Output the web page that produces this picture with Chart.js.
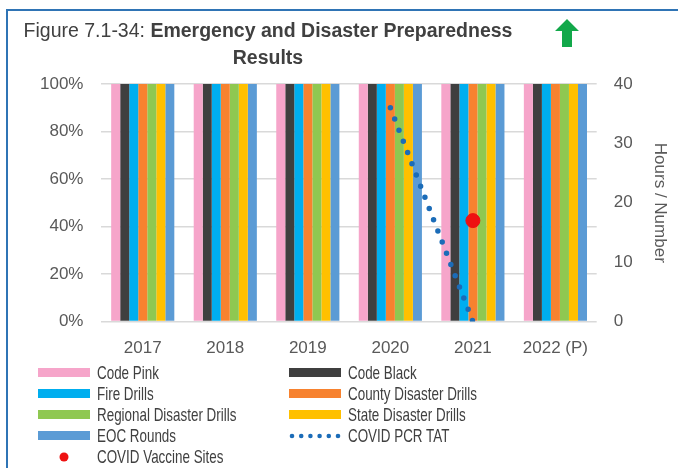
<!DOCTYPE html>
<html>
<head>
<meta charset="utf-8">
<script src="https://cdn.jsdelivr.net/npm/chart.js@4/dist/chart.umd.min.js"></script>
<style>
    html, body { margin: 0; padding: 0; background: #fff; overflow: hidden; }
    #wrap { position: relative; width: 678px; height: 468px; overflow: hidden; font-family: "Liberation Sans", Arial, sans-serif; }
    #frameTop { position: absolute; left: 6px; top: 9px; width: 680px; height: 2px; background: #2f74b5; }
    #frameLeft { position: absolute; left: 6px; top: 9px; width: 2px; height: 470px; background: #2f74b5; }
    #title { position: absolute; left: 20px; top: 17px; width: 496px; text-align: center; font-size: 19.5px; line-height: 27px; color: #404040; }
    #title b { color: #404040; }
    #arrow { position: absolute; left: 555px; top: 19px; }
    #chartBox { position: absolute; left: 0; top: 0; width: 678px; height: 468px; }
    #legend { position: absolute; left: 38px; top: 362px; width: 640px; font-size: 18.5px; color: #404040; }
    .item { position: absolute; height: 21px; line-height: 21px; white-space: nowrap; }
    .swatch { position: absolute; left: 0; top: 6px; width: 52px; height: 9px; }
    .label { position: absolute; left: 59px; top: 0; transform: scaleX(0.725); transform-origin: 0 50%; }
</style>
</head>
<body>
<div id="wrap">
    <div id="frameTop"></div>
    <div id="frameLeft"></div>
    <canvas id="chartBox" width="678" height="468"></canvas>
    <div id="title">Figure 7.1-34: <b>Emergency and Disaster Preparedness<br>Results</b></div>
    <svg id="arrow" width="24" height="28" viewBox="0 0 24 28">
        <polygon points="12,0 24,12 17,12 17,28 7,28 7,12 0,12" fill="#12a84a"/>
    </svg>
    <div id="legend"></div>
</div>
<script>
// categories
const years = ["2017", "2018", "2019", "2020", "2021", "2022 (P)"];

// bar series (percent)
const codePink = [100, 100, 100, 100, 100, 100];
const codeBlack = [100, 100, 100, 100, 100, 100];
const fireDrills = [100, 100, 100, 100, 100, 100];
const countyDrills = [100, 100, 100, 100, 100, 100];
const regionalDrills = [100, 100, 100, 100, 100, 100];
const stateDrills = [100, 100, 100, 100, 100, 100];
const eocRounds = [100, 100, 100, 100, 100, 100];

// right axis series (hours / number)
const covidPcrTat = [null, null, null, 36, 0, null];
const covidVaccineSites = [null, null, null, null, 17, null];

// tick labels
const pctTicks = [0, 20, 40, 60, 80, 100];
const numTicks = [0, 10, 20, 30, 40];

const barSeries = [
    { label: "Code Pink", data: codePink, color: "#f6a5ca" },
    { label: "Code Black", data: codeBlack, color: "#3f3f3f" },
    { label: "Fire Drills", data: fireDrills, color: "#00aeef" },
    { label: "County Disaster Drills", data: countyDrills, color: "#f7822f" },
    { label: "Regional Disaster Drills", data: regionalDrills, color: "#8fc851" },
    { label: "State Disaster Drills", data: stateDrills, color: "#ffc000" },
    { label: "EOC Rounds", data: eocRounds, color: "#5b9bd5" }
];

const tatColor = "#1b6cb8";
const vaccineColor = "#ee1111";

const datasets = barSeries.map(s => ({
    type: "bar",
    label: s.label,
    data: s.data,
    backgroundColor: s.color,
    borderWidth: 0,
    yAxisID: "y",
    order: 2,
    categoryPercentage: 0.765,
    barPercentage: 1.0
}));

datasets.push({
    type: "line",
    label: "COVID PCR TAT",
    data: covidPcrTat,
    yAxisID: "y1",
    borderColor: tatColor,
    borderWidth: 5.5,
    borderDash: [0, 12],
    borderCapStyle: "round",
    pointRadius: 0,
    fill: false,
    order: 1
});

datasets.push({
    type: "line",
    label: "COVID Vaccine Sites",
    data: covidVaccineSites,
    yAxisID: "y1",
    showLine: false,
    pointRadius: 7,
    pointBackgroundColor: vaccineColor,
    pointBorderColor: vaccineColor,
    order: 0
});

new Chart(document.getElementById("chartBox"), {
    data: { labels: years, datasets: datasets },
    options: {
        responsive: false,
        animation: false,
        layout: { padding: { left: 22, right: 8, top: 84, bottom: 100 } },
        plugins: { legend: { display: false }, tooltip: { enabled: false } },
        scales: {
            x: {
                grid: { display: false },
                border: { display: false },
                ticks: { color: "#595959", padding: 9, font: { family: "Liberation Sans", size: 17 } }
            },
            y: {
                min: 0,
                max: 100,
                afterBuildTicks: axis => { axis.ticks = pctTicks.map(v => ({ value: v })); },
                grid: { color: "#d9d9d9", lineWidth: 1.5, drawTicks: false },
                border: { display: false },
                ticks: { color: "#595959", padding: 18, font: { family: "Liberation Sans", size: 17 }, callback: v => v + "%" }
            },
            y1: {
                position: "right",
                min: 0,
                max: 40,
                afterBuildTicks: axis => { axis.ticks = numTicks.map(v => ({ value: v })); },
                grid: { display: false, drawTicks: false },
                border: { display: false },
                ticks: { color: "#595959", padding: 17, font: { family: "Liberation Sans", size: 17 } },
                title: { display: true, text: "Hours / Number", color: "#595959", padding: { top: 0, bottom: 0 }, font: { family: "Liberation Sans", size: 17 } }
            }
        }
    }
});

// legend laid out in two columns like the original
const legendItems = [
    { label: "Code Pink", kind: "bar", color: barSeries[0].color, col: 0, row: 0 },
    { label: "Code Black", kind: "bar", color: barSeries[1].color, col: 1, row: 0 },
    { label: "Fire Drills", kind: "bar", color: barSeries[2].color, col: 0, row: 1 },
    { label: "County Disaster Drills", kind: "bar", color: barSeries[3].color, col: 1, row: 1 },
    { label: "Regional Disaster Drills", kind: "bar", color: barSeries[4].color, col: 0, row: 2 },
    { label: "State Disaster Drills", kind: "bar", color: barSeries[5].color, col: 1, row: 2 },
    { label: "EOC Rounds", kind: "bar", color: barSeries[6].color, col: 0, row: 3 },
    { label: "COVID PCR TAT", kind: "dots", color: tatColor, col: 1, row: 3 },
    { label: "COVID Vaccine Sites", kind: "point", color: vaccineColor, col: 0, row: 4 }
];

const legend = document.getElementById("legend");
legendItems.forEach(it => {
    const el = document.createElement("div");
    el.className = "item";
    el.style.left = (it.col * 251) + "px";
    el.style.top = (it.row * 21) + "px";
    let marker = "";
    if (it.kind === "bar") {
        marker = '<div class="swatch" style="background:' + it.color + '"></div>';
    } else if (it.kind === "dots") {
        marker = '<svg class="swatch" style="top:6px;height:10px" width="52" height="10">';
        for (let i = 0; i < 6; i++) {
            marker += '<circle cx="' + (3 + i * 9.2) + '" cy="5" r="2.3" fill="' + it.color + '"/>';
        }
        marker += "</svg>";
    } else {
        marker = '<svg class="swatch" style="top:5px;height:12px" width="52" height="12"><circle cx="26" cy="6" r="4.5" fill="' + it.color + '"/></svg>';
    }
    el.innerHTML = marker + '<span class="label">' + it.label + "</span>";
    legend.appendChild(el);
});
</script>
</body>
</html>
